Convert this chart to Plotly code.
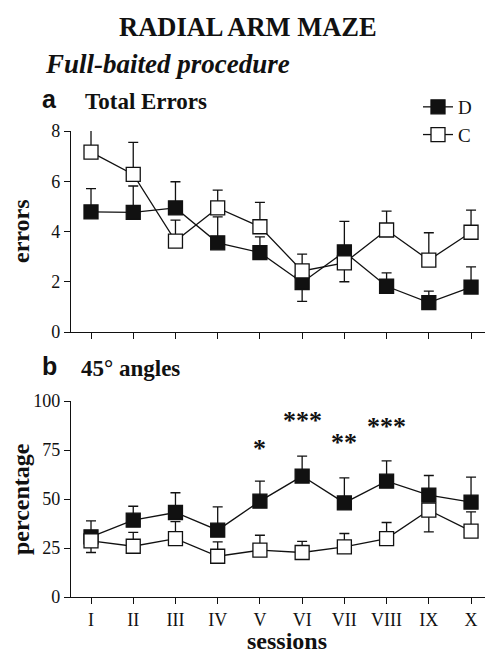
import plotly.graph_objects as go

sessions = ["I", "II", "III", "IV", "V", "VI", "VII", "VIII", "IX", "X"]

# Panel a: Total errors
err_D = [4.78, 4.76, 4.94, 3.55, 3.16, 1.97, 3.19, 1.82, 1.17, 1.79]
err_D_plus = [0.93, 1.05, 1.04, 1.03, 0.63, 0.0, 1.21, 0.53, 0.46, 0.80]
err_D_minus = [0, 0, 0, 0, 0, 0.75, 0, 0, 0, 0]
err_C = [7.16, 6.27, 3.62, 4.94, 4.19, 2.43, 2.75, 4.06, 2.86, 3.97]
err_C_plus = [0.89, 1.28, 0.83, 0.71, 0.97, 0.67, 0.0, 0.75, 1.09, 0.88]
err_C_minus = [0, 0, 0, 0, 0, 0, 0.75, 0, 0, 0]

# Panel b: 45° angles (percentage)
ang_D = [30.7, 39.2, 43.1, 34.1, 48.9, 61.7, 48.0, 59.1, 52.0, 48.4]
ang_D_plus = [8.1, 7.1, 10.1, 11.9, 10.2, 10.2, 12.8, 10.4, 10.0, 12.8]
ang_D_minus = [0] * 10
ang_C = [28.6, 25.9, 29.8, 20.8, 23.9, 22.7, 25.6, 29.8, 44.3, 33.6]
ang_C_plus = [0, 7.1, 8.7, 7.3, 7.6, 5.7, 6.8, 8.2, 0, 9.8]
ang_C_minus = [5.9, 0, 0, 0, 0, 0, 0, 0, 11.1, 0]

# significance marks
sig_sessions = ["V", "VI", "VII", "VIII"]
sig_labels = ["*", "***", "**", "***"]
sig_y = [76, 90, 79, 87]

# the page adds an 8px body margin, so the figure is 8px smaller and offset
OFF = 8
W, H = 493 - OFF, 653 - OFF
ML, MR, MT, MB = 71 - OFF, 0, 0, 0
PW, PH = W - ML - MR, H - MT - MB

def px(x):
    return (x - OFF - ML) / PW

def py(y):
    return 1 - (y - OFF - MT) / PH

SERIF = "Liberation Serif"
BLACK = "#111111"

fig = go.Figure()

def add_series(x, y, plus, minus, filled, name, xa, ya, show):
    fig.add_trace(go.Scatter(
        x=x, y=y, mode="lines+markers", name=name,
        xaxis=xa, yaxis=ya, showlegend=show,
        cliponaxis=False,
        line=dict(color=BLACK, width=1.3),
        marker=dict(symbol="square", size=14,
                    color=BLACK if filled else "white",
                    line=dict(color=BLACK, width=1.3)),
        error_y=dict(type="data", symmetric=False, array=plus, arrayminus=minus,
                     color=BLACK, thickness=1.3, width=5),
    ))

add_series(sessions, err_D, err_D_plus, err_D_minus, True, "D", "x", "y", True)
add_series(sessions, err_C, err_C_plus, err_C_minus, False, "C", "x", "y", True)
add_series(sessions, ang_D, ang_D_plus, ang_D_minus, True, "D", "x2", "y2", False)
add_series(sessions, ang_C, ang_C_plus, ang_C_minus, False, "C", "x2", "y2", False)

axis_common = dict(
    showline=True, linecolor=BLACK, linewidth=1.3,
    ticks="outside", ticklen=6, tickwidth=1.3, tickcolor=BLACK,
    showgrid=False, zeroline=False, automargin=False,
    tickfont=dict(family=SERIF, size=18, color=BLACK),
)

xr = [-0.474, 9.52]
fig.update_layout(
    width=W, height=H,
    margin=dict(l=ML, r=MR, t=MT, b=MB),
    paper_bgcolor="white", plot_bgcolor="white",
    font=dict(family=SERIF, color=BLACK),
    xaxis=dict(axis_common, domain=[0, 1], range=xr, anchor="y",
               showticklabels=False, type="category"),
    yaxis=dict(axis_common, domain=[py(332), py(131)], range=[0, 8],
               tickvals=[0, 2, 4, 6, 8], anchor="x"),
    xaxis2=dict(axis_common, domain=[0, 1], range=xr, anchor="y2",
                type="category"),
    yaxis2=dict(axis_common, domain=[py(597), py(401)], range=[0, 100],
                tickvals=[0, 25, 50, 75, 100], anchor="x2"),
    legend=dict(x=px(418), y=py(88), xanchor="left", yanchor="top",
                font=dict(family=SERIF, size=19, color=BLACK),
                bgcolor="rgba(0,0,0,0)", tracegroupgap=0, itemwidth=30),
    showlegend=True,
)

def ann(text, x, y, size, bold=True, italic=False, family=SERIF, xanchor="left", textangle=0):
    t = text
    if bold:
        t = "<b>" + t + "</b>"
    if italic:
        t = "<i>" + t + "</i>"
    fig.add_annotation(text=t, x=px(x), y=py(y), xref="paper", yref="paper",
                       xanchor=xanchor, yanchor="middle", showarrow=False,
                       textangle=textangle,
                       font=dict(family=family, size=size, color=BLACK))

ann("RADIAL ARM MAZE", 248, 27, 26.5, xanchor="center")
ann("Full-baited procedure", 43, 64, 27, italic=True)
ann("a", 40, 99, 25, family="Liberation Sans")
ann("Total Errors", 83, 101, 23)
ann("b", 40, 366, 25, family="Liberation Sans")
ann("45° angles", 79, 368, 23)
ann("errors", 21, 231, 24, xanchor="center", textangle=-90)
ann("percentage", 21, 499, 24, xanchor="center", textangle=-90)
ann("sessions", 287, 641, 24, xanchor="center")

for s, lab, yv in zip(sig_sessions, sig_labels, sig_y):
    fig.add_annotation(text="<b>" + lab + "</b>", x=s, y=yv, xref="x2", yref="y2",
                       showarrow=False, xanchor="center", yanchor="middle",
                       font=dict(family=SERIF, size=26, color=BLACK))

fig.write_html("out.html")
